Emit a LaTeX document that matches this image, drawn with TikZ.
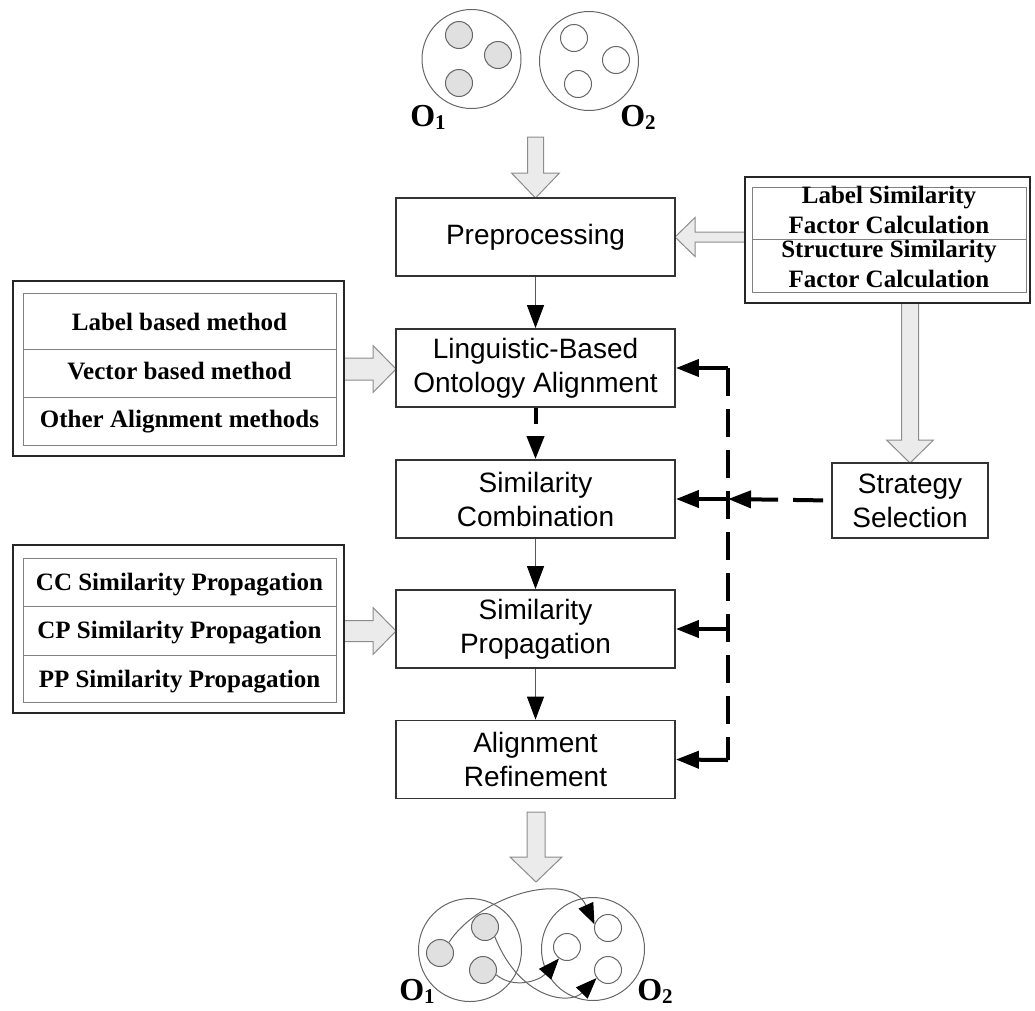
\documentclass[tikz,border=0pt]{standalone}
\usepackage{fontspec}
\setmainfont{Liberation Serif}
\setsansfont{Liberation Sans}
\usetikzlibrary{arrows.meta}
\newcommand\GArrowV[6]{% x, ytop, ytip, shaft half, head half, head length
  \draw[garrow] ({#1-#4},#2) -- ({#1+#4},#2) -- ({#1+#4},{#3-#6}) -- ({#1+#5},{#3-#6}) -- (#1,#3) -- ({#1-#5},{#3-#6}) -- ({#1-#4},{#3-#6}) -- cycle;}
\newcommand\GArrowH[6]{% y, xstart, xbase, xtip, shaft half, head half
  \draw[garrow] (#2,{#1-#5}) -- (#3,{#1-#5}) -- (#3,{#1-#6}) -- (#4,#1) -- (#3,{#1+#6}) -- (#3,{#1+#5}) -- (#2,{#1+#5}) -- cycle;}
\newcommand\OSub[2]{#1\raisebox{-3pt}{\fontsize{21}{21}\selectfont #2}}
\begin{document}
\begin{tikzpicture}[x=1pt,y=-1pt,
  garrow/.style={fill=black!8, draw=black!45, line width=1pt, line join=miter},
  flowbox/.style={draw=black!80, line width=1.8pt, minimum width=279pt, minimum height=78pt, inner sep=0pt, align=center, font=\sffamily\fontsize{28}{34}\selectfont},
  stratbox/.style={flowbox, minimum width=156pt, minimum height=75pt},
  outerbox/.style={draw=black!85, line width=2pt, inner sep=0pt},
  innerline/.style={draw=black!50, line width=1pt},
  tabtext/.style={anchor=base, inner sep=0pt, font=\bfseries\fontsize{25}{25}\selectfont},
  thinarr/.style={draw=black!65, line width=1.1pt, -{Triangle[length=23pt,width=17pt,color=black]}},
  dasharr/.style={draw=black, line width=4pt, dash pattern=on 16pt off 13pt, -{Triangle[length=23pt,width=17pt]}},
  stratarr/.style={draw=black, line width=4pt, dash pattern=on 30pt off 15pt, dash phase=37pt, -{Triangle[length=23pt,width=17pt]}},
  solarr/.style={draw=black, line width=4pt, -{Triangle[length=23pt,width=17pt]}},
  fbline/.style={draw=black, line width=4pt, dash pattern=on 28pt off 13pt},
  bigc/.style={circle, draw=black!60, line width=1pt, minimum size=99pt, inner sep=0pt},
  bigcb/.style={bigc, minimum size=103pt},
  smallf/.style={circle, draw=black!60, fill=black!12, line width=1pt, minimum size=27pt, inner sep=0pt},
  smallo/.style={circle, draw=black!60, line width=1pt, minimum size=27pt, inner sep=0pt},
  olabel/.style={font=\bfseries\fontsize{32}{32}\selectfont, inner sep=0pt},
  curvearr/.style={draw=black!60, line width=1pt, -{Triangle[length=21pt,width=16pt,color=black]}}
]
\useasboundingbox (0,0) rectangle (1035,1010);

% ---------- top ontologies ----------
\node[bigc] (t1) at (471.5,59) {};
\node[bigc] (t2) at (589,61) {};
\node[smallf] (t1a) at (459,35) {};
\node[smallf] (t1b) at (498,55) {};
\node[smallf] (t1c) at (459,83) {};
\node[smallo] (t2a) at (574,38) {};
\node[smallo] (t2b) at (616,60) {};
\node[smallo] (t2c) at (578,84) {};
\node[olabel] (o1t) at (428,117) {\OSub{O}{1}};
\node[olabel] (o2t) at (638,117) {\OSub{O}{2}};

% ---------- gray block arrows ----------
\GArrowV{535.5}{137}{198}{8}{24}{25}
\GArrowV{910}{303}{463}{8.5}{23.5}{23}
\GArrowV{536}{812}{882}{9}{26}{25}
\GArrowH{237}{745}{695}{675}{5}{19.5}
\GArrowH{369}{344}{373}{396}{11}{23.5}
\GArrowH{631}{344}{373}{396}{10.5}{23.5}

% ---------- main flow ----------
\node[flowbox] (pre) at (535.5,237) {Preprocessing};
\node[flowbox] (ling) at (535.5,368) {Linguistic-Based\\Ontology Alignment};
\node[flowbox] (comb) at (535.5,499) {Similarity\\Combination};
\node[flowbox] (prop) at (535.5,629) {Similarity\\Propagation};
\node[flowbox] (ref) at (535.5,759.5) {Alignment\\Refinement};
\node[stratbox] (strat) at (910,500.5) {Strategy\\Selection};

\draw[thinarr] (pre.south) -- (ling.north);
\draw[dasharr] (ling.south) -- (comb.north);
\draw[thinarr] (comb.south) -- (prop.north);
\draw[thinarr] (prop.south) -- (ref.north);

% ---------- feedback ----------
\coordinate (f1) at (728,368);
\coordinate (f2) at (728,499);
\coordinate (f3) at (728,629);
\coordinate (f4) at (728,760);
\draw[fbline] (f1) -- (f4);
\draw[solarr] (f1) -- (ling.east);
\draw[solarr] (f2) -- (comb.east);
\draw[solarr] (f3) -- (prop.east);
\draw[solarr] (f4) -- (ref.east);
\draw[stratarr] (strat.west) -- (f2);

% ---------- right table ----------
\node[outerbox, minimum width=285pt, minimum height=126pt] (rbox) at (887.5,240) {};
\draw[innerline] (752,187) rectangle (1026,292);
\draw[innerline] (752,239) -- (1026,239);
\node[tabtext] (r1) at (889,203) {Label Similarity};
\node[tabtext] (r2) at (889,233) {Factor Calculation};
\node[tabtext] (r3) at (889,257) {Structure Similarity};
\node[tabtext] (r4) at (889,287) {Factor Calculation};

% ---------- left table 1 ----------
\node[outerbox, minimum width=331pt, minimum height=175pt] (lbox1) at (178.5,368.5) {};
\draw[innerline] (23,293) rectangle (336,445);
\draw[innerline] (23,349) -- (336,349);
\draw[innerline] (23,397) -- (336,397);
\node[tabtext] (l1) at (179.5,330) {Label based method};
\node[tabtext] (l2) at (179.5,379) {Vector based method};
\node[tabtext] (l3) at (179.5,427) {Other Alignment methods};

% ---------- left table 2 ----------
\node[outerbox, minimum width=331pt, minimum height=168pt] (lbox2) at (178.5,629) {};
\draw[innerline] (23,558) rectangle (336,702);
\draw[innerline] (23,606) -- (336,606);
\draw[innerline] (23,655) -- (336,655);
\node[tabtext] (p1) at (179.5,590) {CC Similarity Propagation};
\node[tabtext] (p2) at (179.5,638) {CP Similarity Propagation};
\node[tabtext] (p3) at (179.5,687) {PP Similarity Propagation};

% ---------- bottom ontologies ----------
\node[bigcb] (b1) at (470,950) {};
\node[bigcb] (b2) at (593,949) {};
\node[smallf] (b1a) at (440,953) {};
\node[smallf] (b1b) at (485,927) {};
\node[smallf] (b1c) at (483,970) {};
\node[smallo] (b2a) at (567,947) {};
\node[smallo] (b2b) at (608,928) {};
\node[smallo] (b2c) at (608,970) {};
\draw[curvearr] (b1a.50) .. controls (480,895) and (570,870) .. (b2b.165);
\draw[curvearr] (b1b.-45) .. controls (520,1000) and (570,1005) .. (b2c.215);
\draw[curvearr] (b1c.-20) .. controls (515,990) and (540,980) .. (b2a.235);
\node[olabel] (o1b) at (417,991) {\OSub{O}{1}};
\node[olabel] (o2b) at (655,991) {\OSub{O}{2}};
\end{tikzpicture}
\end{document}
